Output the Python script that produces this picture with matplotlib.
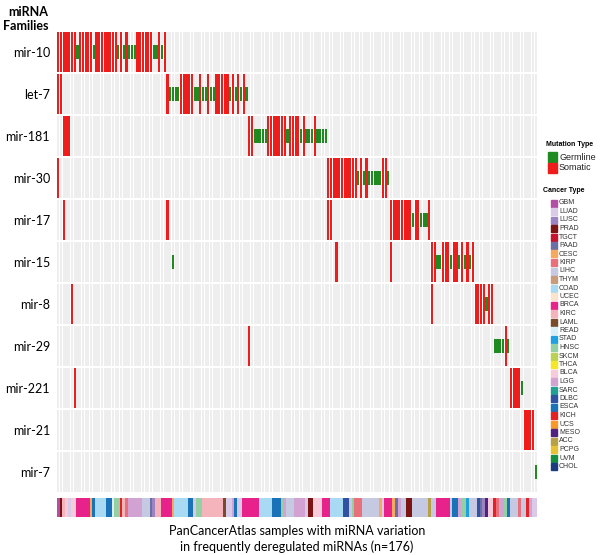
import matplotlib.pyplot as plt
from matplotlib.patches import Rectangle

# miRNA families (rows, top to bottom) and number of samples (columns)
families = ["mir-10", "let-7", "mir-181", "mir-30", "mir-17", "mir-15",
            "mir-8", "mir-29", "mir-221", "mir-21", "mir-7"]
n_samples = 176

# sample columns with a somatic / germline variant, per family
mir10_somatic = [0, 1, 2, 3, 4, 5, 6, 8, 9, 10, 11, 12, 14, 15, 16, 17, 18, 19, 20, 21,
                 23, 25, 29, 30, 31, 32, 33, 34, 37, 39]
mir10_germline = [7, 13, 22, 24, 26, 27, 28, 35, 36, 38]
let7_somatic = [0, 1, 40, 45, 46, 47, 48, 49, 52, 55, 58, 59, 60, 61, 62, 64, 66, 68]
let7_germline = [41, 42, 43, 44, 50, 51, 53, 54, 56, 57, 63, 65, 67, 69]
mir181_somatic = [2, 3, 4, 70, 71, 77, 78, 79, 80, 81, 82, 83, 85, 86, 87, 88, 90, 94]
mir181_germline = [72, 73, 74, 75, 76, 84, 89, 91, 92, 93, 95, 96, 97, 98]
mir30_somatic = [0, 99, 100, 101, 102, 103, 104, 105, 106, 107, 108, 109, 111, 113, 119, 120]
mir30_germline = [110, 112, 114, 115, 116, 117, 118, 121]
mir17_somatic = [2, 40, 99, 100, 122, 123, 124, 125, 126, 127, 128, 129, 131, 132, 136]
mir17_germline = [130, 133, 134, 135]
mir15_somatic = [102, 122, 137, 138, 141, 142, 143, 145, 146, 148, 150, 152]
mir15_germline = [42, 139, 140, 144, 147, 149, 151]
mir8_somatic = [5, 137, 153, 154, 155, 156, 158, 159]
mir8_germline = [157]
mir29_somatic = [70, 164]
mir29_germline = [160, 161, 162, 163, 165]
mir221_somatic = [6, 166, 167, 168, 169]
mir221_germline = [170]
mir21_somatic = [171, 172, 173, 174]
mir21_germline = []
mir7_somatic = []
mir7_germline = [175]

somatic_cols = [mir10_somatic, let7_somatic, mir181_somatic, mir30_somatic, mir17_somatic,
                mir15_somatic, mir8_somatic, mir29_somatic, mir221_somatic, mir21_somatic,
                mir7_somatic]
germline_cols = [mir10_germline, let7_germline, mir181_germline, mir30_germline, mir17_germline,
                 mir15_germline, mir8_germline, mir29_germline, mir221_germline, mir21_germline,
                 mir7_germline]

# cancer type legend
cancer_types = ["GBM", "LUAD", "LUSC", "PRAD", "TGCT", "PAAD", "CESC", "KIRP", "LIHC", "THYM",
                "COAD", "UCEC", "BRCA", "KIRC", "LAML", "READ", "STAD", "HNSC", "SKCM", "THCA",
                "BLCA", "LGG", "SARC", "DLBC", "ESCA", "KICH", "UCS", "MESO", "ACC", "PCPG",
                "UVM", "CHOL"]
cancer_colors = ["#b04fa3", "#d9cbe8", "#9c84c2", "#7d1414", "#c8132c", "#6a6fa6", "#f5a95e",
                 "#e8707b", "#c6c9e2", "#c99b7c", "#a9daf3", "#fde3cc", "#e8228b", "#f5b3bb",
                 "#7a4b2b", "#dbeff9", "#1fa0e0", "#93d1a4", "#b9d253", "#f7e626", "#f8cbda",
                 "#d2a2d2", "#22a192", "#3151a1", "#1a72b8", "#e42224", "#f7982a", "#512381",
                 "#b8a044", "#e9c233", "#12903f", "#1b3b80"]

# cancer type of each sample, as runs along the bottom bar
annot_types = ["GBM", "PRAD", "KIRC", "BLCA", "LUAD", "BLCA", "BRCA", "CESC", "ESCA", "COAD",
               "ESCA", "READ", "HNSC", "KICH", "KIRC", "KIRP", "LGG", "LIHC", "PAAD", "LUSC",
               "KIRC", "BRCA", "CESC", "COAD", "ESCA", "LUAD", "HNSC", "KIRC", "LAML", "LUAD",
               "LGG", "ESCA", "LUAD", "BRCA", "COAD", "ESCA", "HNSC", "LGG", "LIHC", "LGG",
               "LUAD", "PRAD", "BLCA", "BRCA", "COAD", "DLBC", "LIHC", "HNSC", "KIRP", "LIHC",
               "CESC", "LUAD", "BRCA", "CESC", "PAAD", "LGG", "LIHC", "PRAD", "LIHC", "ACC",
               "LIHC", "BRCA", "LIHC", "ESCA", "LGG", "HNSC", "STAD", "LIHC", "DLBC", "PAAD",
               "LUSC", "MESO", "BLCA", "KICH", "KIRP", "LGG", "HNSC", "ESCA", "LIHC", "KIRP",
               "LIHC", "KICH", "LGG", "LUAD"]
annot_counts = [1, 1, 1, 1, 1, 2, 5, 1, 1, 4,
                2, 1, 2, 1, 1, 1, 5, 3, 1, 1,
                2, 4, 1, 5, 2, 1, 2, 8, 1, 2,
                1, 1, 2, 6, 5, 3, 1, 1, 3, 4,
                1, 2, 3, 3, 5, 2, 1, 1, 3, 6,
                1, 1, 3, 1, 1, 1, 2, 2, 6, 1,
                2, 5, 1, 2, 1, 2, 1, 3, 1, 1,
                1, 1, 2, 1, 1, 2, 1, 1, 3, 1,
                2, 1, 1, 2]

red = "#ef1c1c"
green = "#1f8a1f"
label_font = ["Lato", "DejaVu Sans"]
legend_font = ["Liberation Sans", "DejaVu Sans"]

fig = plt.figure(figsize=(6, 5.55), dpi=100)
W, H = 600.0, 555.0

ax = fig.add_axes([57 / W, 1 - 493 / H, 480 / W, 462 / H])
n_rows = len(families)
xs = [c + 0.5 for c in range(n_samples)]
for r in range(n_rows):
    ax.bar(xs, 0.95, width=0.8, bottom=r + 0.025, color="#eeeeee", linewidth=0)
    s = [c + 0.5 for c in somatic_cols[r]]
    g = [c + 0.5 for c in germline_cols[r]]
    ax.bar(s, 0.97, width=0.8, bottom=r + 0.015, color=red, linewidth=0)
    ax.bar(g, 0.34, width=0.8, bottom=r + 0.33, color=green, linewidth=0)

ax.set_xlim(0, n_samples)
ax.set_ylim(n_rows, 0)
ax.set_xticks([])
ax.set_yticks([r + 0.5 for r in range(n_rows)])
ax.set_yticklabels(families, fontsize=9, family=label_font)
ax.tick_params(axis="y", length=0, pad=5)
for sp in ax.spines.values():
    sp.set_visible(False)

# cancer type annotation bar
sample_colors = []
for t, n in zip(annot_types, annot_counts):
    sample_colors += [cancer_colors[cancer_types.index(t)]] * n
ax2 = fig.add_axes([57 / W, 1 - 517 / H, 480 / W, 19 / H])
ax2.bar(range(len(sample_colors)), 1, width=1.0, align="edge", color=sample_colors, linewidth=0)
ax2.set_xlim(0, n_samples)
ax2.set_ylim(0, 1)
ax2.axis("off")

fig.text(48 / W, 1 - 19 / H, "miRNA\nFamilies", ha="right", va="center", multialignment="right",
         fontsize=9, fontweight="bold", family=label_font, linespacing=1.3)
fig.text(297 / W, 1 - 539 / H,
         "PanCancerAtlas samples with miRNA variation\nin frequently deregulated miRNAs (n=176)",
         ha="center", va="center", fontsize=9, family=label_font, linespacing=1.3)

# mutation type legend
fig.text(546 / W, 1 - 145 / H, "Mutation Type", fontsize=5, fontweight="bold",
         family=legend_font, va="center")
for i, (lab, col) in enumerate([("Germline", green), ("Somatic", red)]):
    y = 157 + i * 11
    fig.add_artist(Rectangle((548 / W, 1 - (y + 5) / H), 9 / W, 10 / H, color=col,
                             transform=fig.transFigure))
    fig.text(559 / W, 1 - y / H, lab, fontsize=6.5, family=legend_font, va="center",
             color="#222222")

# cancer type legend
fig.text(543 / W, 1 - 190 / H, "Cancer Type", fontsize=5, fontweight="bold",
         family=legend_font, va="center")
for i, (lab, col) in enumerate(zip(cancer_types, cancer_colors)):
    y = 203 + i * 8.5
    fig.add_artist(Rectangle((551 / W, 1 - (y + 3.5) / H), 6 / W, 7 / H, color=col,
                             transform=fig.transFigure))
    fig.text(559 / W, 1 - y / H, lab, fontsize=5, family=legend_font, va="center",
             color="#333333")

fig.savefig("out.png", dpi=100)
